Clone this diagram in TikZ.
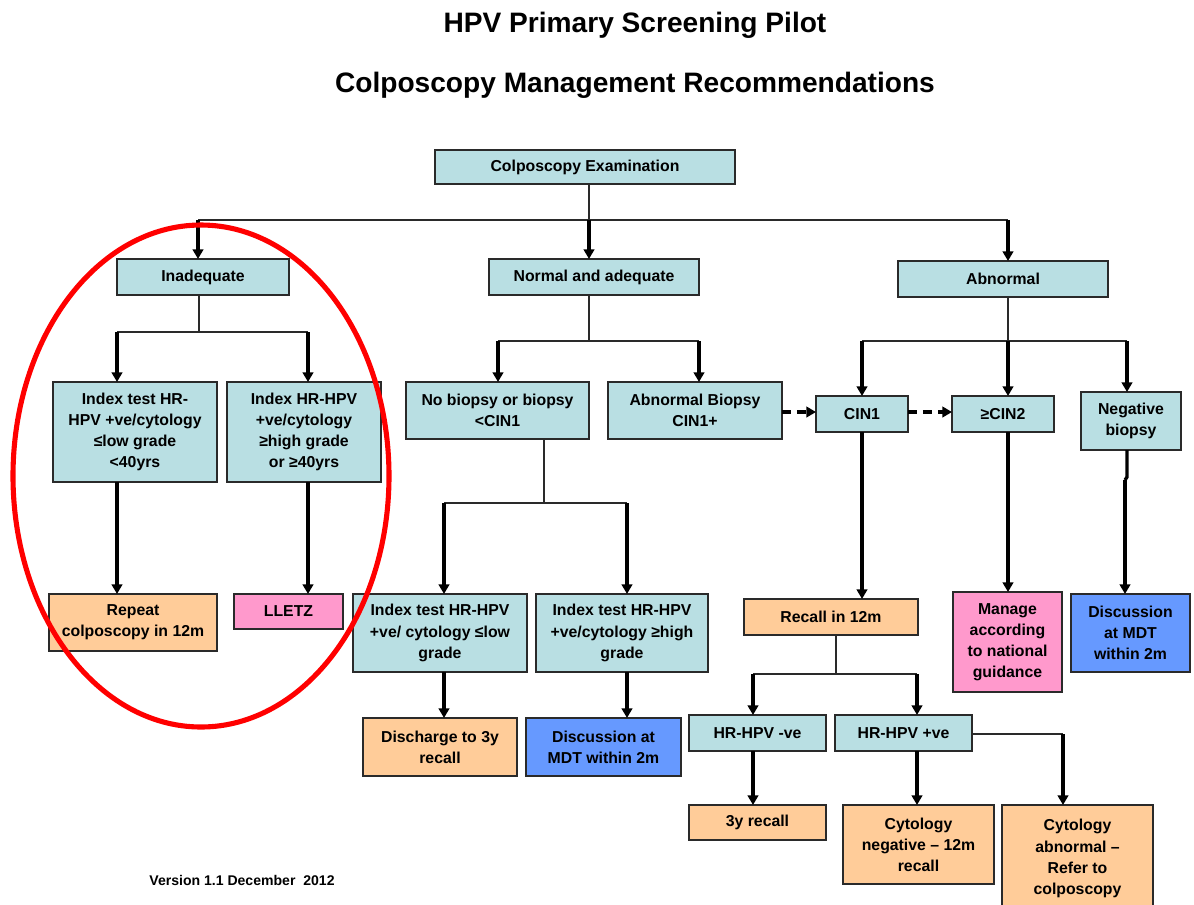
\documentclass[tikz,border=0pt]{standalone}
\usepackage{fontspec}
\setmainfont{Liberation Sans}
\usetikzlibrary{arrows.meta}
\definecolor{cblue}{HTML}{B9DFE3}
\definecolor{corange}{HTML}{FFCC99}
\definecolor{cpink}{HTML}{FF99CC}
\definecolor{cdeep}{HTML}{6699FF}
\definecolor{cline}{HTML}{2A2A2A}
\tikzset{
  box/.style={draw=cline, line width=0.9pt, inner sep=0pt, outer sep=0pt,
    align=center, font=\fontsize{9}{12}\selectfont\bfseries, text=black},
  stem/.style={draw=cline, line width=0.85pt},
  arr/.style={draw=black, line width=1.9pt, -{Triangle[length=5.5pt,width=6pt]}},
  dasharr/.style={draw=black, line width=1.9pt, dash pattern=on 5pt off 3.5pt,
    -{Triangle[length=5.5pt,width=6pt]}},
}
% box by pixel corners: name, x1, y1, x2, y2, fill, text
\newcommand\bx[7]{\node[box, fill=#6, minimum width={(#4-#2)*0.02cm},
  minimum height={(#5-#3)*0.02cm}] (#1) at ({(#2+#4)/2},{(#3+#5)/2}) {#7};}
\begin{document}
\begin{tikzpicture}[x=0.02cm, y=-0.02cm]
\useasboundingbox (0,0) rectangle (1194,904);
\clip (0,0) rectangle (1194,904);
\fill[white] (0,0) rectangle (1194,904);

% titles
\node[font=\fontsize{16}{19}\selectfont\bfseries] (t1) at (635,25) {HPV Primary Screening Pilot};
\node[font=\fontsize{16}{19}\selectfont\bfseries] (t2) at (635,85) {Colposcopy Management Recommendations};
\node[font=\fontsize{8}{10}\selectfont\bfseries] (ver) at (242,880) {Version 1.1 December\ \ 2012};

% boxes
\bx{ce}{435}{150}{735}{184}{cblue}{Colposcopy Examination}
\bx{inad}{117}{259}{289}{295}{cblue}{Inadequate}
\bx{norm}{489}{259}{699}{295}{cblue}{Normal and adequate}
\bx{abn}{898}{261}{1108}{297}{cblue}{Abnormal}
\bx{idx1}{53}{382}{217}{482}{cblue}{Index test HR-\\HPV +ve/cytology\\≤low grade\\<40yrs}
\bx{idx2}{227}{382}{381}{482}{cblue}{Index HR-HPV\\+ve/cytology\\≥high grade\\or ≥40yrs}
\bx{rep}{49}{594}{217}{651}{corange}{Repeat\\colposcopy in 12m}
\bx{lletz}{234}{594}{343}{629}{cpink}{LLETZ}
\bx{nob}{406}{382}{589}{439}{cblue}{No biopsy or biopsy\\<CIN1}
\bx{abb}{608}{382}{782}{439}{cblue}{Abnormal Biopsy\\CIN1+}
\bx{cin1}{816}{396}{908}{432}{cblue}{CIN1}
\bx{cin2}{952}{396}{1054}{432}{cblue}{≥CIN2}
\bx{neg}{1081}{392}{1181}{450}{cblue}{Negative\\biopsy}
\bx{low}{353}{594}{527}{672}{cblue}{Index test HR-HPV\\+ve/ cytology ≤low\\grade}
\bx{high}{536}{594}{708}{672}{cblue}{Index test HR-HPV\\+ve/cytology ≥high\\grade}
\bx{dis}{363}{718}{517}{776}{corange}{Discharge to 3y\\recall}
\bx{mdta}{526}{718}{681}{776}{cdeep}{Discussion at\\MDT within 2m}
\bx{rec}{744}{599}{918}{635}{corange}{Recall in 12m}
\bx{man}{953}{592}{1062}{692}{cpink}{Manage\\according\\to national\\guidance}
\bx{mdtb}{1071}{594}{1190}{672}{cdeep}{Discussion\\at MDT\\within 2m}
\bx{hneg}{689}{715}{826}{751}{cblue}{HR-HPV -ve}
\bx{hpos}{835}{715}{972}{751}{cblue}{HR-HPV +ve}
\bx{yr3}{689}{805}{826}{840}{corange}{3y recall}
\bx{cneg}{843}{805}{994}{884}{corange}{Cytology\\negative – 12m\\recall}
\bx{cabn}{1002}{805}{1153}{912}{corange}{Cytology\\abnormal –\\Refer to\\colposcopy}

% junction points
\coordinate (j0) at (589,220);
\coordinate (jl) at (198,220);
\coordinate (jr) at (1008,220);
\coordinate (ji) at (199,332);
\coordinate (il) at (117,332);
\coordinate (ir) at (308,332);
\coordinate (jn) at (589,341);
\coordinate (nl) at (498,341);
\coordinate (nr) at (699,341);
\coordinate (jb) at (544,503);
\coordinate (bl) at (444,503);
\coordinate (br) at (627,503);
\coordinate (ja) at (1008,341);
\coordinate (al) at (862,341);
\coordinate (ar) at (1127,341);
\coordinate (jk) at (1127,477);
\coordinate (jk2) at (1125,480);
\coordinate (jc) at (836,674);
\coordinate (cl) at (753,674);
\coordinate (cr) at (917,674);
\coordinate (jp) at (1063,734);

% top level
\draw[stem] (ce.south -| j0) -- (j0);
\draw[stem] (jl) -- (jr);
\draw[arr] (jl) -- (jl |- inad.north);
\draw[arr] (j0) -- (j0 |- norm.north);
\draw[arr] (jr) -- (jr |- abn.north);

% inadequate branch
\draw[stem] (inad.south -| ji) -- (ji);
\draw[stem] (il) -- (ir);
\draw[arr] (il) -- (il |- idx1.north);
\draw[arr] (ir) -- (ir |- idx2.north);
\draw[arr] (il |- idx1.south) -- (il |- rep.north);
\draw[arr] (ir |- idx2.south) -- (ir |- lletz.north);

% normal branch
\draw[stem] (norm.south -| jn) -- (jn);
\draw[stem] (nl) -- (nr);
\draw[arr] (nl) -- (nl |- nob.north);
\draw[arr] (nr) -- (nr |- abb.north);
\draw[stem] (nob.south -| jb) -- (jb);
\draw[stem] (bl) -- (br);
\draw[arr] (bl) -- (bl |- low.north);
\draw[arr] (br) -- (br |- high.north);
\draw[arr] (bl |- low.south) -- (bl |- dis.north);
\draw[arr] (br |- high.south) -- (br |- mdta.north);

% dashed escalation
\draw[dasharr] (abb.east |- 0,412) -- (cin1.west |- 0,412);
\draw[dasharr] (cin1.east |- 0,412) -- (cin2.west |- 0,412);

% abnormal branch
\draw[stem] (abn.south -| ja) -- (ja);
\draw[stem] (al) -- (ar);
\draw[arr] (al) -- (al |- cin1.north);
\draw[arr] (ja) -- (ja |- cin2.north);
\draw[arr] (ar) -- (ar |- neg.north);
\draw[arr] (al |- cin1.south) -- (al |- rec.north);
\draw[arr] (ja |- cin2.south) -- (ja |- man.north);
\draw[line width=1.9pt] (ar |- neg.south) -- (jk) -- (jk2);
\draw[arr] (jk2) -- (jk2 |- mdtb.north);

% recall branch
\draw[stem] (rec.south -| jc) -- (jc);
\draw[stem] (cl) -- (cr);
\draw[arr] (cl) -- (cl |- hneg.north);
\draw[arr] (cr) -- (cr |- hpos.north);
\draw[arr] (cl |- hneg.south) -- (cl |- yr3.north);
\draw[arr] (cr |- hpos.south) -- (cr |- cneg.north);
\draw[stem] (hpos.east |- jp) -- (jp);
\draw[arr] (jp) -- (jp |- cabn.north);

% highlight ring
\draw[red, line width=2.9pt] (201,476) ellipse [x radius=188, y radius=251];
\end{tikzpicture}
\end{document}
